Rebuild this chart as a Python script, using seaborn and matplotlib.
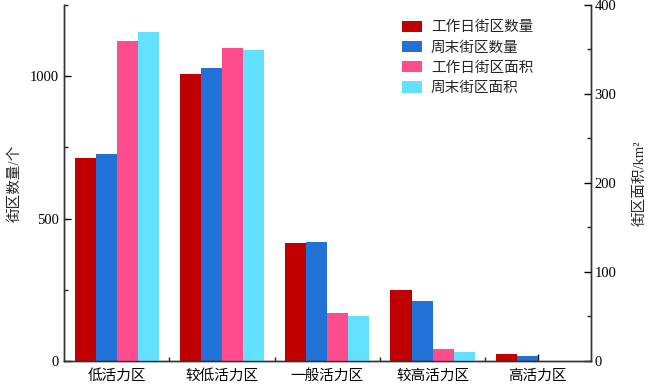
import pandas as pd
import matplotlib
matplotlib.use('Agg')
import matplotlib.pyplot as plt
import seaborn as sns
from matplotlib.patches import Patch
from matplotlib.ticker import MultipleLocator, FixedLocator

categories = ['低活力区', '较低活力区', '一般活力区', '较高活力区', '高活力区']
series = ['工作日街区数量', '周末街区数量', '工作日街区面积', '周末街区面积']
workday_count = [711, 1008, 415, 248, 23]
weekend_count = [725, 1029, 419, 212, 17]
workday_area = [360, 352, 54, 13.7, 0.4]
weekend_area = [369, 349, 50.6, 10.6, 0.2]
colors = ['#C00000', '#2171D6', '#FF4C8C', '#63DFFF']

sns.set_style('ticks')
plt.rcParams['font.family'] = ['Liberation Serif', 'Noto Sans CJK SC', 'DejaVu Sans']
plt.rcParams['axes.unicode_minus'] = False

rows = []
for i, c in enumerate(categories):
    rows.append([c, series[0], workday_count[i], None])
    rows.append([c, series[1], weekend_count[i], None])
    rows.append([c, series[2], None, workday_area[i]])
    rows.append([c, series[3], None, weekend_area[i]])
df = pd.DataFrame(rows, columns=['类别', '系列', '数量', '面积'])

fig = plt.figure(figsize=(6.5, 3.85), dpi=100)
ax = fig.add_axes([0.0985, 0.0623, 0.81, 0.925])
ax2 = ax.twinx()

pal = dict(zip(series, colors))
sns.barplot(data=df, x='类别', y='数量', hue='系列', hue_order=series, order=categories,
            palette=pal, ax=ax, legend=False, errorbar=None, width=0.8, linewidth=0,
            saturation=1)
sns.barplot(data=df, x='类别', y='面积', hue='系列', hue_order=series, order=categories,
            palette=pal, ax=ax2, legend=False, errorbar=None, width=0.8, linewidth=0,
            saturation=1)

ax.set_xlim(-0.5, 4.5)
ax.set_ylim(0, 1250)
ax2.set_ylim(0, 400)

ax.yaxis.set_major_locator(MultipleLocator(500))
ax.yaxis.set_minor_locator(MultipleLocator(250))
ax2.yaxis.set_major_locator(MultipleLocator(100))
ax2.yaxis.set_minor_locator(MultipleLocator(50))
ax.xaxis.set_minor_locator(FixedLocator([0.5, 1.5, 2.5, 3.5]))

for a in (ax, ax2):
    a.tick_params(which='major', direction='in', length=5, width=1, labelsize=10.5, colors='black')
    a.tick_params(which='minor', direction='in', length=3, width=1)
    a.spines['top'].set_visible(False)
    for s in ('left', 'right', 'bottom'):
        a.spines[s].set_linewidth(1)
        a.spines[s].set_color('#333333')
ax2.tick_params(axis='y', which='both', pad=3)
ax.tick_params(axis='x', pad=6)

ax.set_xlabel('')
ax.set_ylabel('街区数量/个', fontsize=10.5, labelpad=6)
ax2.set_ylabel('街区面积/km²', fontsize=10.5, rotation=90, labelpad=12)

handles = [Patch(facecolor=c, edgecolor='none') for c in colors]
ax2.legend(handles, series, loc='upper left', bbox_to_anchor=(0.625, 0.98), frameon=False,
           fontsize=10.5, handlelength=1.4, handleheight=0.8, handletextpad=0.6,
           labelspacing=0.45, borderaxespad=0.2)

fig.savefig('out.png', dpi=100)
